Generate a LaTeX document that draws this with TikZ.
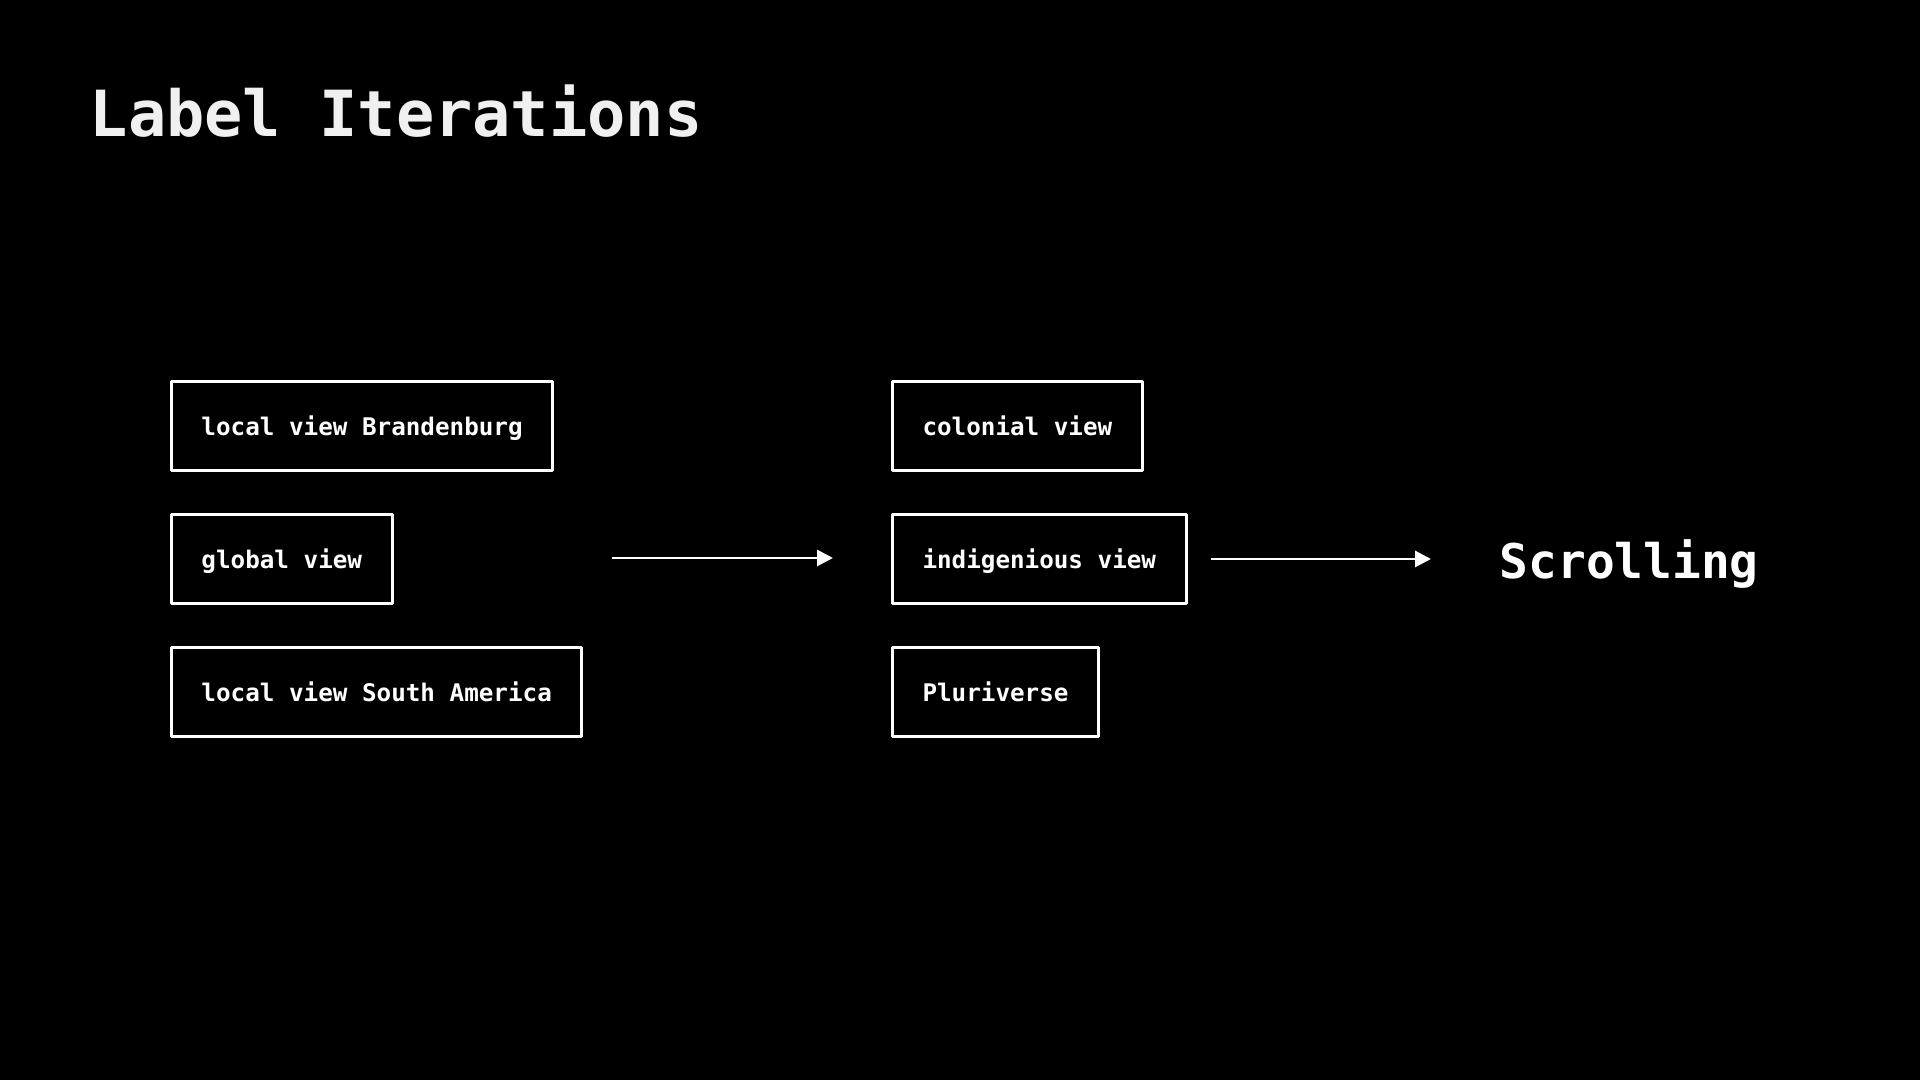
\documentclass[tikz,border=0pt]{standalone}
\usepackage{fontspec}
\setmonofont{DejaVu Sans Mono}
\usetikzlibrary{arrows.meta}
\begin{document}
\begin{tikzpicture}[>={Triangle[length=4.5pt,width=4.5pt]}, line join=round,
    lbl/.style={draw=white, line width=0.85pt, text=white, anchor=west,
      font=\ttfamily\bfseries\fontsize{6.9}{8}\selectfont,
      inner xsep=0.3cm, minimum height=0.89cm, text height=0.22cm, text depth=0.02cm},
    arr/.style={->, white, line width=0.8pt}]
    \def\xl{1.70} \def\xr{8.91} % Spalten
    \def\ya{6.54} \def\yb{5.21} \def\yc{3.88} % Zeilen
    \fill[black] (0,0) rectangle (19.2,10.8);
    \useasboundingbox (0,0) rectangle (19.2,10.8);
    \node[anchor=base west, inner sep=0, text={rgb,255:red,240;green,240;blue,240},
      font=\ttfamily\bfseries\fontsize{18.1}{20}\selectfont] (title) at (0.89,9.43) {Label Iterations};
    % erste Iteration
    \node[lbl] (brb) at (\xl,\ya) {local view Brandenburg};
    \node[lbl] (glob) at (\xl,\yb) {global view};
    \node[lbl] (sam) at (\xl,\yc) {local view South America};
    % zweite Iteration
    \node[lbl] (kol) at (\xr,\ya) {colonial view};
    \node[lbl] (ind) at (\xr,\yb) {indigenious view};
    \node[lbl] (plu) at (\xr,\yc) {Pluriverse};
    \node[anchor=base west, inner sep=0, text=white,
      font=\ttfamily\bfseries\fontsize{13.6}{16}\selectfont] (scr) at (14.99,5.01) {Scrolling};
    \coordinate (p1) at (6.12,5.22); \coordinate (q1) at (8.33,5.22);
    \coordinate (p2) at (12.11,5.21); \coordinate (q2) at (14.31,5.21);
    \draw[arr] (p1) -- (q1);
    \draw[arr] (p2) -- (q2);
\end{tikzpicture}
\end{document}
